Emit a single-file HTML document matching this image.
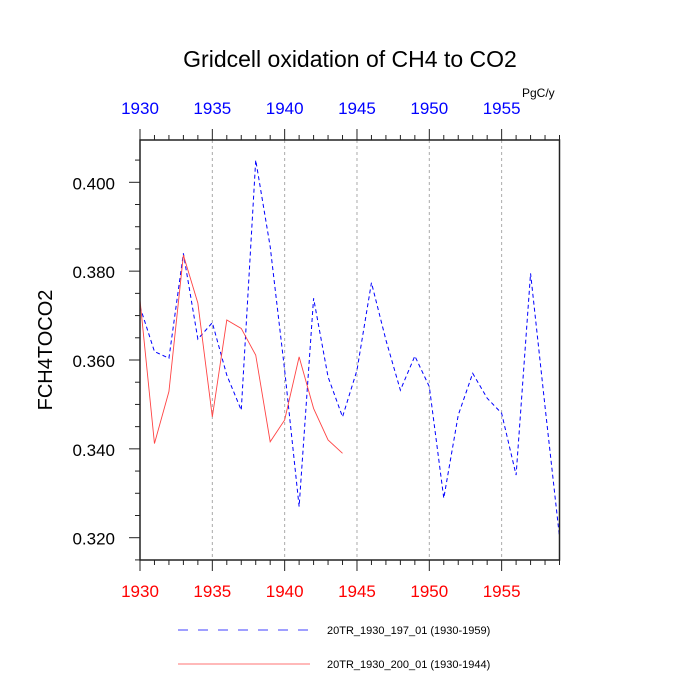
<!DOCTYPE html>
<html><head><meta charset="utf-8"><style>
body{margin:0;background:#fff}
svg{display:block;font-family:"Liberation Sans",sans-serif}
</style></head><body>
<svg id="chart" width="700" height="700">
<g id="grid"></g>
<g id="series"></g>
<g id="axes"></g>
<text x="350" y="67" font-size="23" text-anchor="middle">Gridcell oxidation of CH4 to CO2</text>
<text x="522" y="97" font-size="12">PgC/y</text>
<text transform="translate(52,350) rotate(-90)" font-size="20" text-anchor="middle">FCH4TOCO2</text>
<g>
<line x1="178" y1="630" x2="310" y2="630" stroke="#00f" stroke-width="0.8" stroke-dasharray="10,10"/>
<text x="327" y="634" font-size="11">20TR_1930_197_01 (1930-1959)</text>
<line x1="178" y1="664" x2="310" y2="664" stroke="#f44" stroke-width="0.8"/>
<text x="327" y="668" font-size="11">20TR_1930_200_01 (1930-1944)</text>
</g>
</svg>
<script>
const yearsBlue = [1930,1931,1932,1933,1934,1935,1936,1937,1938,1939,1940,1941,1942,1943,1944,1945,1946,1947,1948,1949,1950,1951,1952,1953,1954,1955,1956,1957,1958,1959];
const valuesBlue = [0.372,0.3619,0.3604,0.384,0.3647,0.3684,0.3566,0.3487,0.405,0.3855,0.3577,0.327,0.3739,0.3562,0.3472,0.3577,0.3774,0.3645,0.3532,0.3609,0.354,0.3289,0.3476,0.357,0.3514,0.348,0.3341,0.3795,0.3495,0.3202];
const yearsRed = [1930,1931,1932,1933,1934,1935,1936,1937,1938,1939,1940,1941,1942,1943,1944];
const valuesRed = [0.3735,0.3412,0.3529,0.3836,0.3728,0.3472,0.369,0.3671,0.3611,0.3416,0.3465,0.3607,0.3491,0.342,0.339];
const xTickLabels = ["1930","1935","1940","1945","1950","1955"];
const yTickLabels = ["0.320","0.340","0.360","0.380","0.400"];

const NS="http://www.w3.org/2000/svg";
const L=140,R=559.5,T=140,B=560;
const X0=1930,X1=1959,Y0=0.32,Y1=0.4,YB=537.7,YT=182.3;
const xs=v=>L+(v-X0)/(X1-X0)*(R-L);
const ys=v=>YB-(v-Y0)/(Y1-Y0)*(YB-YT);
function mk(tag,attrs,parent){const e=document.createElementNS(NS,tag);for(const k in attrs)e.setAttribute(k,attrs[k]);parent.appendChild(e);return e;}
const grid=document.getElementById('grid'),axes=document.getElementById('axes'),series=document.getElementById('series');
xTickLabels.forEach(t=>{const v=+t;if(v===X0)return;
 const g=mk('line',{x1:xs(v),x2:xs(v),y1:T,y2:B,stroke:'#aaa','stroke-width':1,'stroke-dasharray':'3,3'},grid);
 
 });
for(let y=X0;y<=X1;y++){const x=xs(y);const maj=(y%5===0);
 const a=mk('line',{x1:x,x2:x,y1:B,y2:B+(maj?11:5),stroke:'#222','stroke-width':1},axes);
 
 
 const b=mk('line',{x1:x,x2:x,y1:T,y2:T-(maj?11:5),stroke:'#222','stroke-width':1},axes);
 
 }
xTickLabels.forEach(t=>{const x=xs(+t);
 const a=mk('text',{x:x,y:597,'font-size':17,fill:'#f00','text-anchor':'middle'},axes);a.textContent=t;
 
 
 const b=mk('text',{x:x,y:114,'font-size':17,fill:'#00f','text-anchor':'middle'},axes);b.textContent=t;
 
 });
for(let i=0;i<=18;i++){const v=0.315+i*0.005;const y=ys(v);if(y<T||y>B)continue;const maj=(i%4===1);
 const a=mk('line',{x1:L,x2:L-(maj?11:5),y1:y,y2:y,stroke:'#222','stroke-width':1},axes);
 
 }
yTickLabels.forEach(t=>{const y=ys(+t);
 const a=mk('text',{x:115,y:y+7,'font-size':17,'text-anchor':'end'},axes);a.textContent=t;
 
 });
const fr=mk('rect',{x:L,y:T,width:R-L,height:B-T,fill:'none',stroke:'#222','stroke-width':1.5},axes);


const pb=mk('polyline',{points:yearsBlue.map((y,i)=>xs(y)+','+ys(valuesBlue[i])).join(' '),fill:'none',stroke:'#00f','stroke-width':1,'stroke-dasharray':'4,3'},series);


const pr=mk('polyline',{points:yearsRed.map((y,i)=>xs(y)+','+ys(valuesRed[i])).join(' '),fill:'none',stroke:'#f44','stroke-width':0.9},series);


</script>
</body></html>
